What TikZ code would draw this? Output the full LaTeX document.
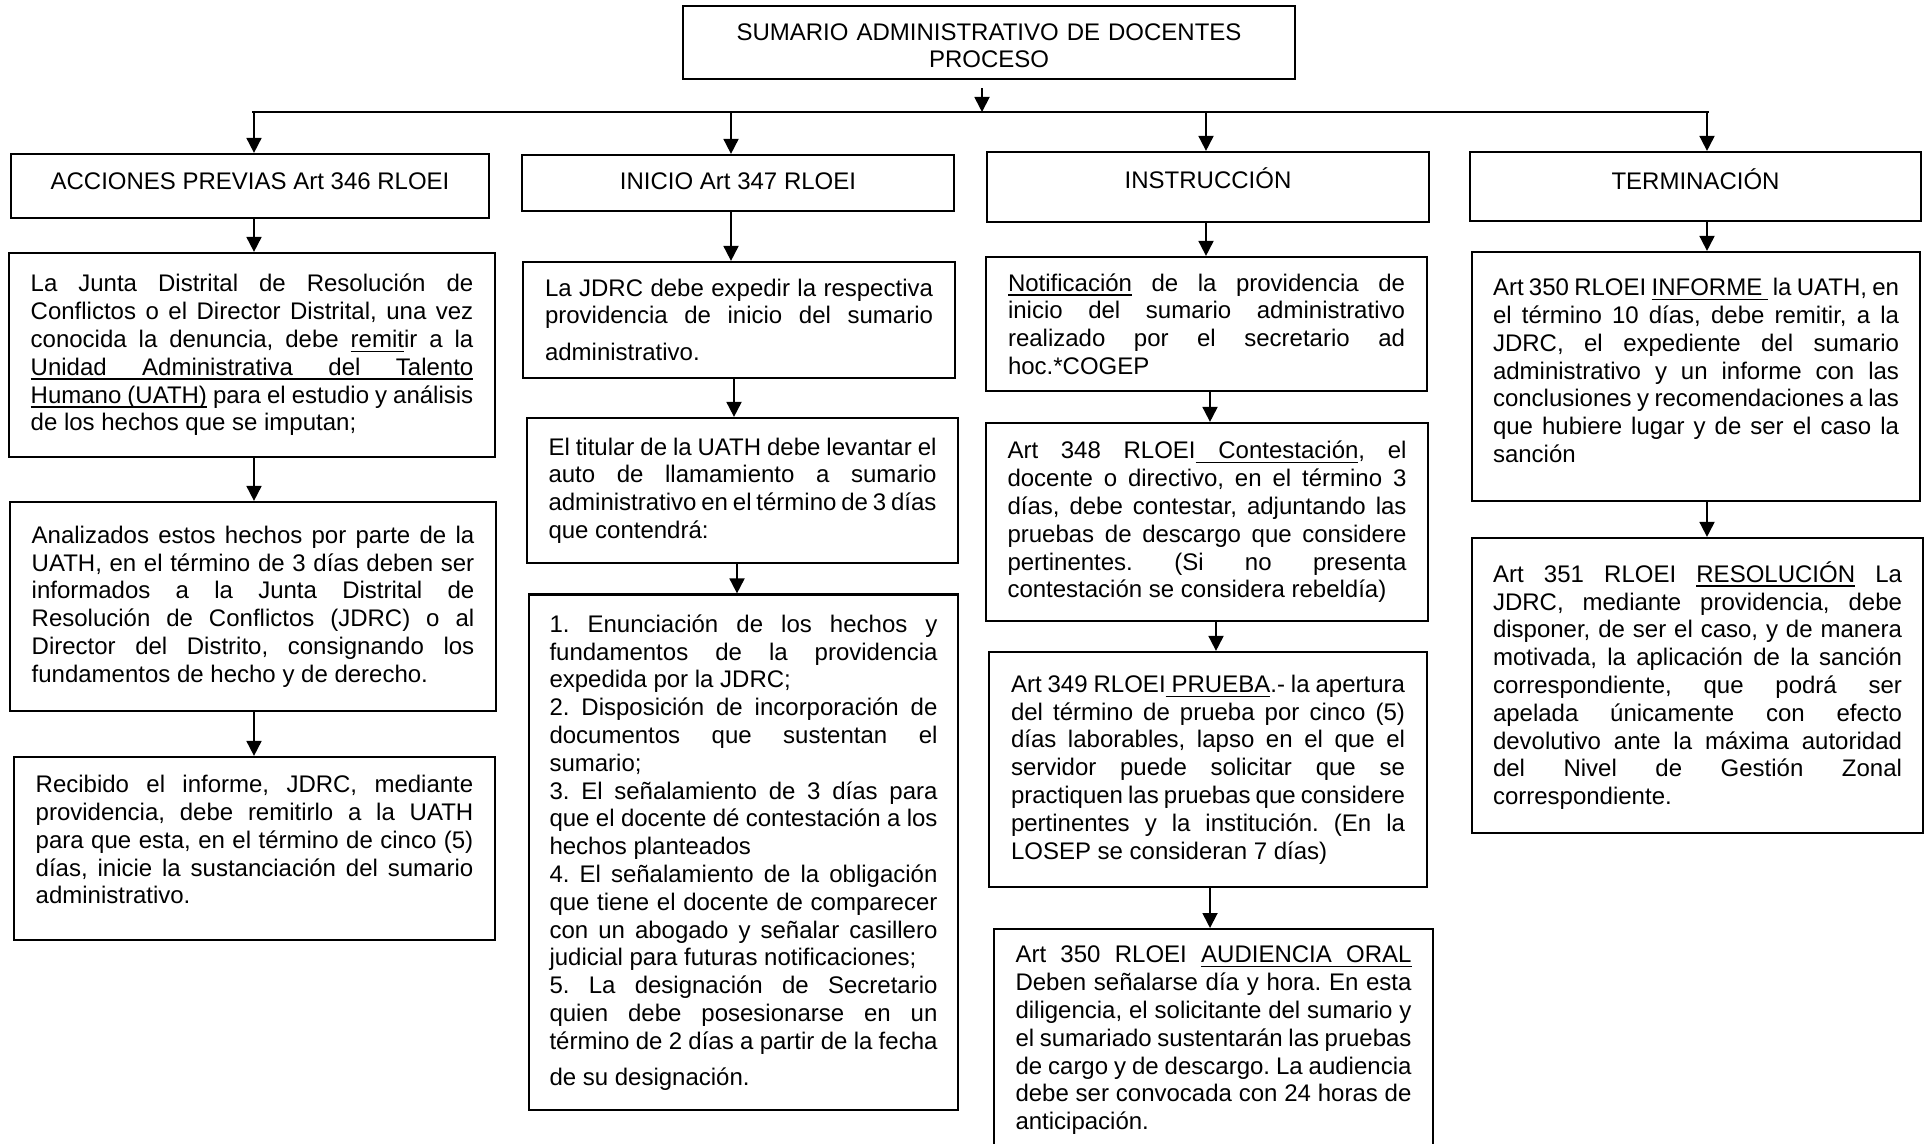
\documentclass[tikz,border=0pt]{standalone}
\usepackage{fontspec}
\setmainfont{Liberation Sans}
\usetikzlibrary{arrows.meta,positioning}
\tolerance=10000
\hbadness=10000
\hyphenpenalty=10000
\frenchspacing
% subrayado de palabras y de espacios
\newsavebox\subbox
\newcommand{\subrayado}[1]{\sbox\subbox{#1}\rlap{\rule[-2.3pt]{\wd\subbox}{0.7pt}}\usebox\subbox}
\newcommand{\subesp}{\leaders\hrule height -1.6pt depth 2.3pt\hskip\fontdimen2\font plus\fontdimen3\font minus\fontdimen4\font\relax}
\tikzset{
    %Define standard arrow tip
    >={Triangle[width=7.5pt,length=7.5pt]},
    %Define style for boxes
    caja/.style={
           rectangle,
           draw=black, line width=1.1pt,
           inner sep=3pt,
           font=\fontsize{12}{13.9}\selectfont,
           align=justify},
    cabecera/.style={
           rectangle,
           draw=black, line width=1.1pt,
           inner sep=3pt,
           text height=8.6pt,
           font=\fontsize{12}{13.9}\selectfont,
           align=center},
    % Define arrow style
    flecha/.style={
           ->,
           line width=0.9pt},
    barra/.style={
           line width=1.2pt}
}
\begin{document}
\begin{tikzpicture}[x=0.5pt,y=-0.5pt]
\useasboundingbox (0,0) rectangle (1930,1144);

% titulo y cabeceras
\node[cabecera, text width=300pt, minimum width=306pt, minimum height=36.5pt, text height=11.6pt, text depth=13.9pt] (titulo) at (989,42.5)
  {SUMARIO ADMINISTRATIVO DE DOCENTES\\PROCESO};
\coordinate (barL) at (252,112);
\coordinate (barR) at (1709,112);
\coordinate (k0) at (982,112);
\coordinate (k1) at (254,112);
\coordinate (k2) at (731,112);
\coordinate (k3) at (1206,112);
\coordinate (k4) at (1707,112);

\node[cabecera, minimum width=239pt, minimum height=32pt, text depth=5pt] (h1) at (250,186) {ACCIONES PREVIAS Art 346 RLOEI};
\node[cabecera, minimum width=216pt, minimum height=28pt, text depth=2pt] (h2) at (738,183) {INICIO Art 347 RLOEI};
\node[cabecera, minimum width=221pt, minimum height=35pt, text depth=7.3pt] (h3) at (1208,187) {INSTRUCCIÓN};
\node[cabecera, minimum width=225.5pt, minimum height=34.5pt, text depth=5.5pt] (h4) at (1695.5,186.5) {TERMINACIÓN};

% acciones previas
\node[caja, text width=221.3pt, minimum width=243pt, minimum height=102pt] (a1) at (252,355)
  {La Junta Distrital de Resolución de\linebreak
   Conflictos o el Director Distrital, una vez\linebreak
   conocida la denuncia, debe \subrayado{remit}ir a la\linebreak
   \subrayado{Unidad}\subesp\subrayado{Administrativa}\subesp\subrayado{del}\subesp\subrayado{Talento}\linebreak
   \subrayado{Humano}\subesp\subrayado{(UATH)} para el estudio y análisis\linebreak
   de los hechos que se imputan;};
\node[caja, text width=221.3pt, minimum width=243pt, minimum height=104.5pt] (a2) at (253,606.5)
  {Analizados estos hechos por parte de la\linebreak
   UATH, en el término de 3 días deben ser\linebreak
   informados a la Junta Distrital de\linebreak
   Resolución de Conflictos (JDRC) o al\linebreak
   Director del Distrito, consignando los\linebreak
   fundamentos de hecho y de derecho.};
\node[caja, text width=218.8pt, minimum width=240.5pt, minimum height=91.5pt, text depth=64.6pt] (a3) at (254.5,848.5)
  {Recibido el informe, JDRC, mediante\linebreak
   providencia, debe remitirlo a la UATH\linebreak
   para que esta, en el término de cinco (5)\linebreak
   días, inicie la sustanciación del sumario\linebreak
   administrativo.};

% inicio
\node[caja, text width=194pt, minimum width=216pt, minimum height=58pt] (b1) at (739,320)
  {La JDRC debe expedir la respectiva\linebreak
   providencia de inicio del sumario\linebreak
   \rule{0pt}{15pt}administrativo.};
\node[caja, text width=194pt, minimum width=215.5pt, minimum height=72.5pt] (b2) at (742.5,490.5)
  {El titular de la UATH debe levantar el\linebreak
   auto de llamamiento a sumario\linebreak
   administrativo en el término de 3 días\linebreak
   que contendrá:};
\node[caja, text width=194pt, minimum width=214.3pt, minimum height=257.9pt] (b3) at (743.5,852.4)
  {1. Enunciación de los hechos y\linebreak
   fundamentos de la providencia\linebreak
   expedida por la JDRC;\\
   2. Disposición de incorporación de\linebreak
   documentos que sustentan el\linebreak
   sumario;\\
   3. El señalamiento de 3 días para\linebreak
   que el docente dé contestación a los\linebreak
   hechos planteados\\
   4. El señalamiento de la obligación\linebreak
   que tiene el docente de comparecer\linebreak
   con un abogado y señalar casillero\linebreak
   judicial para futuras notificaciones;\\
   5. La designación de Secretario\linebreak
   quien debe posesionarse en un\linebreak
   término de 2 días a partir de la fecha\linebreak
   \rule{0pt}{14.5pt}de su designación.};

% instruccion
\node[caja, text width=198.5pt, minimum width=220.5pt, minimum height=67pt] (c1) at (1206.5,324)
  {\subrayado{Notificación} de la providencia de\linebreak
   inicio del sumario administrativo\linebreak
   realizado por el secretario ad\linebreak
   hoc.*COGEP};
\node[caja, text width=199.5pt, minimum width=221pt, minimum height=99pt] (c2) at (1207,522)
  {Art 348 RLOEI\subesp\subrayado{Contestación}, el\linebreak
   docente o directivo, en el término 3\linebreak
   días, debe contestar, adjuntando las\linebreak
   pruebas de descargo que considere\linebreak
   pertinentes. (Si no presenta\linebreak
   contestación se considera rebeldía)};
\node[caja, text width=197pt, minimum width=219pt, minimum height=117.5pt] (c3) at (1208,769.5)
  {Art 349 RLOEI\subesp\subrayado{PRUEBA}.- la apertura\linebreak
   del término de prueba por cinco (5)\linebreak
   días laborables, lapso en el que el\linebreak
   servidor puede solicitar que se\linebreak
   practiquen las pruebas que considere\linebreak
   pertinentes y la institución. (En la\linebreak
   LOSEP se consideran 7 días)};
\node[caja, anchor=north, inner ysep=8.5pt, text width=198pt, minimum width=219.5pt, text depth=106pt] (c4) at (1213.5,928)
  {Art 350 RLOEI \subrayado{AUDIENCIA}\subesp\subrayado{ORAL}\linebreak
   Deben señalarse día y hora. En esta\linebreak
   diligencia, el solicitante del sumario y\linebreak
   el sumariado sustentarán las pruebas\linebreak
   de cargo y de descargo. La audiencia\linebreak
   debe ser convocada con 24 horas de\linebreak
   anticipación.};

% terminacion
\node[caja, text width=203pt, minimum width=224pt, minimum height=124.5pt, text depth=89.4pt] (d1) at (1696,376.5)
  {Art 350 RLOEI \subrayado{INFORME}\subesp\ la UATH, en\linebreak
   el término 10 días, debe remitir, a la\linebreak
   JDRC, el expediente del sumario\linebreak
   administrativo y un informe con las\linebreak
   conclusiones y recomendaciones a las\linebreak
   que hubiere lugar y de ser el caso la\linebreak
   sanción};
\node[caja, text width=204.5pt, minimum width=225.5pt, minimum height=147.5pt] (d2) at (1697.5,685.5)
  {Art 351 RLOEI \subrayado{RESOLUCIÓN} La\linebreak
   JDRC, mediante providencia, debe\linebreak
   disponer, de ser el caso, y de manera\linebreak
   motivada, la aplicación de la sanción\linebreak
   correspondiente, que podrá ser\linebreak
   apelada únicamente con efecto\linebreak
   devolutivo ante la máxima autoridad\linebreak
   del Nivel de Gestión Zonal\linebreak
   correspondiente.};

% conectores
\draw[barra] (barL) -- (barR);
\draw[flecha] ([yshift=-4pt]titulo.south -| k0) -- (k0);
\draw[flecha] (k1) -- (k1 |- h1.north);
\draw[flecha] (k2) -- (k2 |- h2.north);
\draw[flecha] (k3) -- (k3 |- h3.north);
\draw[flecha] (k4) -- (k4 |- h4.north);

\draw[flecha] (h1.south -| k1) -- (a1.north -| k1);
\draw[flecha] (a1.south -| k1) -- (a2.north -| k1);
\draw[flecha] (a2.south -| k1) -- (a3.north -| k1);

\draw[flecha] (h2.south -| k2) -- (b1.north -| k2);
\draw[flecha] ([xshift=1.5pt]b1.south -| k2) -- ([xshift=1.5pt]b2.north -| k2);
\draw[flecha] ([xshift=3pt]b2.south -| k2) -- ([xshift=3pt]b3.north -| k2);

\draw[flecha] (h3.south -| k3) -- (c1.north -| k3);
\draw[flecha] ([xshift=2pt]c1.south -| k3) -- ([xshift=2pt]c2.north -| k3);
\draw[flecha] ([xshift=5pt]c2.south -| k3) -- ([xshift=5pt]c3.north -| k3);
\draw[flecha] ([xshift=2pt]c3.south -| k3) -- ([xshift=2pt]c4.north -| k3);

\draw[flecha] (h4.south -| k4) -- (d1.north -| k4);
\draw[flecha] (d1.south -| k4) -- (d2.north -| k4);
\end{tikzpicture}
\end{document}
